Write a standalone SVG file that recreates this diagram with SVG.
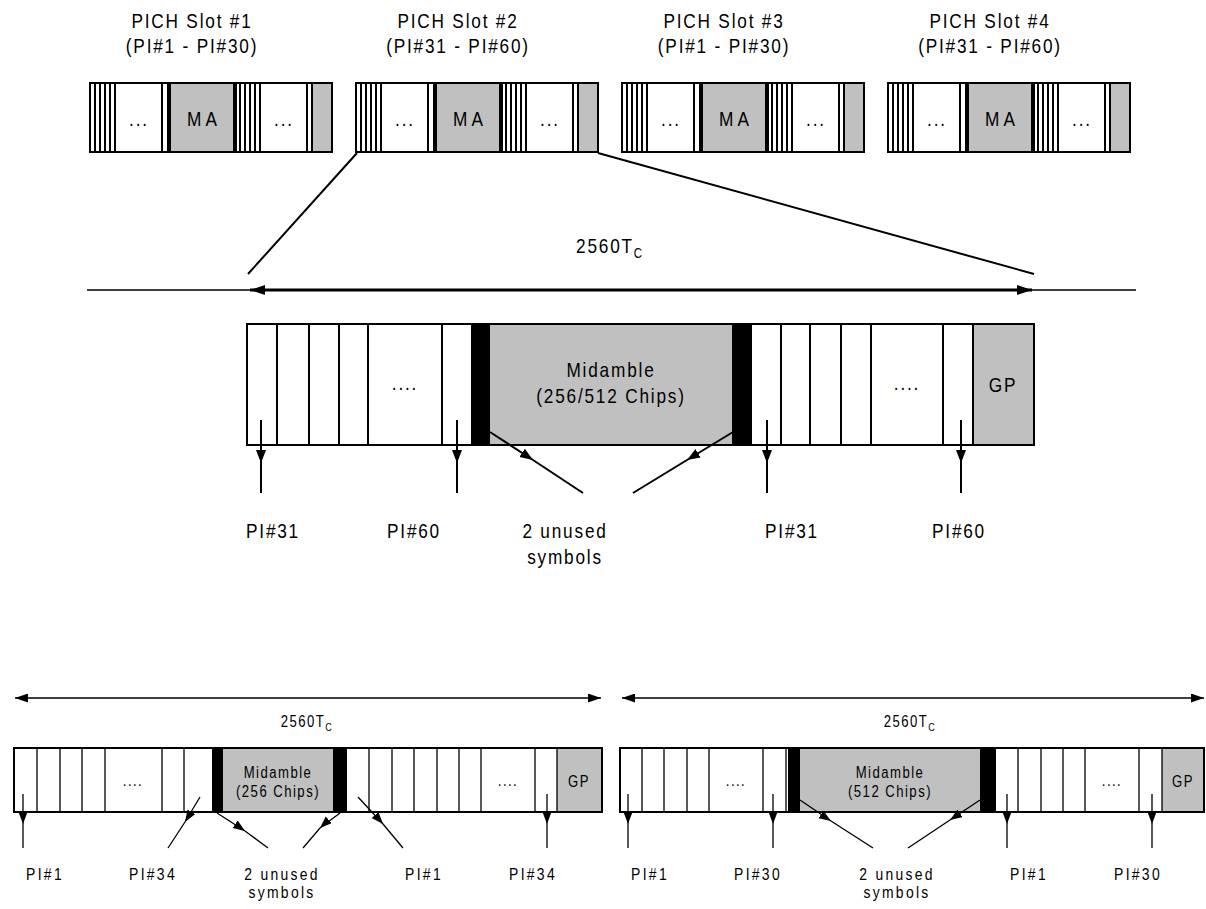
<svg xmlns="http://www.w3.org/2000/svg" xmlns:xlink="http://www.w3.org/1999/xlink" width="1206" height="909" viewBox="0 0 1206 909">
<style>
.t{font-family:"Liberation Sans",Arial,sans-serif;fill:#000;text-anchor:middle}
.h{font-size:21px;letter-spacing:2.2px}
.ma{letter-spacing:5px}
.s{font-size:17px;letter-spacing:2.8px}
.f{font-size:16px;letter-spacing:1.8px}
.box{fill:#fff;stroke:#000;stroke-width:2}
.blk{fill:#000}
.ln{stroke:#000;stroke-width:2;fill:none}
.lt{stroke:#000;stroke-width:1.3;fill:none}
.ar{stroke:#000;stroke-width:2;fill:none;marker-mid:url(#ah)}
.ars{stroke:#000;stroke-width:1.3;fill:none;marker-mid:url(#ahs)}
</style>
<defs>
<marker id="ah" markerUnits="userSpaceOnUse" markerWidth="14" markerHeight="12" refX="13" refY="5" orient="auto"><path d="M0,0 L13,5 L0,10 z" fill="#000"/></marker>
<marker id="ahs" markerUnits="userSpaceOnUse" markerWidth="14" markerHeight="12" refX="12" refY="4.5" orient="auto"><path d="M0,0 L12,4.5 L0,9 z" fill="#000"/></marker>
<marker id="de" markerUnits="userSpaceOnUse" markerWidth="16" markerHeight="12" refX="15" refY="5" orient="auto"><path d="M0,0 L15,5 L0,10 z" fill="#000"/></marker>
<marker id="ds" markerUnits="userSpaceOnUse" markerWidth="16" markerHeight="12" refX="0" refY="5" orient="auto"><path d="M15,0 L0,5 L15,10 z" fill="#000"/></marker>
<marker id="des" markerUnits="userSpaceOnUse" markerWidth="16" markerHeight="12" refX="13" refY="4.5" orient="auto"><path d="M0,0 L13,4.5 L0,9 z" fill="#000"/></marker>
<marker id="dss" markerUnits="userSpaceOnUse" markerWidth="16" markerHeight="12" refX="0" refY="4.5" orient="auto"><path d="M13,0 L0,4.5 L13,9 z" fill="#000"/></marker>
<g id="slot">
<rect class="box" x="0" y="0" width="242" height="69"/>
<rect fill="#c0c0c0" x="81" y="1" width="62" height="67"/>
<rect fill="#c0c0c0" x="223" y="1" width="18" height="67"/>
<rect class="blk" x="77" y="0" width="4" height="69"/>
<rect class="blk" x="143" y="0" width="4" height="69"/>
<path class="ln" d="M5,0V69M10,0V69M15,0V69M20,0V69M25,0V69M72,0V69M150,0V69M155,0V69M160,0V69M165,0V69M170,0V69M217,0V69M222,0V69"/>
<rect x="0" y="0" width="242" height="69" fill="none" stroke="#000" stroke-width="2"/>
</g>
</defs>

<g id="slot1">
<text class="t h" transform="translate(192,28) scale(.82,1)">PICH Slot #1</text>
<text class="t h" transform="translate(192,53) scale(.82,1)">(PI#1 - PI#30)</text>
<use xlink:href="#slot" x="90" y="83"/>
<text class="t h" transform="translate(139,126) scale(.82,1)">...</text>
<text class="t h ma" transform="translate(204,126) scale(.82,1)">MA</text>
<text class="t h" transform="translate(284,126) scale(.82,1)">...</text>
</g>
<g id="slot2">
<text class="t h" transform="translate(458,28) scale(.82,1)">PICH Slot #2</text>
<text class="t h" transform="translate(458,53) scale(.82,1)">(PI#31 - PI#60)</text>
<use xlink:href="#slot" x="356" y="83"/>
<text class="t h" transform="translate(405,126) scale(.82,1)">...</text>
<text class="t h ma" transform="translate(470,126) scale(.82,1)">MA</text>
<text class="t h" transform="translate(550,126) scale(.82,1)">...</text>
</g>
<g id="slot3">
<text class="t h" transform="translate(724,28) scale(.82,1)">PICH Slot #3</text>
<text class="t h" transform="translate(724,53) scale(.82,1)">(PI#1 - PI#30)</text>
<use xlink:href="#slot" x="622" y="83"/>
<text class="t h" transform="translate(671,126) scale(.82,1)">...</text>
<text class="t h ma" transform="translate(736,126) scale(.82,1)">MA</text>
<text class="t h" transform="translate(816,126) scale(.82,1)">...</text>
</g>
<g id="slot4">
<text class="t h" transform="translate(990,28) scale(.82,1)">PICH Slot #4</text>
<text class="t h" transform="translate(990,53) scale(.82,1)">(PI#31 - PI#60)</text>
<use xlink:href="#slot" x="888" y="83"/>
<text class="t h" transform="translate(937,126) scale(.82,1)">...</text>
<text class="t h ma" transform="translate(1002,126) scale(.82,1)">MA</text>
<text class="t h" transform="translate(1082,126) scale(.82,1)">...</text>
</g>

<g id="dim-main">
<text class="t h" transform="translate(610,253) scale(.82,1)">2560T<tspan font-size="14" dy="5">C</tspan></text>
</g>

<g id="frame-main">
<rect class="box" x="247" y="324" width="787" height="121"/>
<rect fill="#c0c0c0" x="490" y="325" width="242" height="119"/>
<rect fill="#c0c0c0" x="973" y="325" width="60" height="119"/>
<rect class="blk" x="472" y="324" width="18" height="121"/>
<rect class="blk" x="732" y="324" width="20" height="121"/>
<path class="ln" d="M277,324V445M309,324V445M339,324V445M368,324V445M442,324V445M472,324V445M781,324V445M810,324V445M841,324V445M871,324V445M943,324V445M973,324V445"/>
<rect x="247" y="324" width="787" height="121" fill="none" stroke="#000" stroke-width="2"/>
<text class="t h" transform="translate(405,390) scale(.82,1)">....</text>
<text class="t h" transform="translate(611,377) scale(.82,1)">Midamble</text>
<text class="t h" transform="translate(611,403) scale(.82,1)">(256/512 Chips)</text>
<text class="t h" transform="translate(907,390) scale(.82,1)">....</text>
<text class="t h" transform="translate(1003,392) scale(.82,1)">GP</text>
</g>

<g id="labels-main">
<text class="t h" transform="translate(273,538) scale(.82,1)">PI#31</text>
<text class="t h" transform="translate(414,538) scale(.82,1)">PI#60</text>
<text class="t h" transform="translate(565,538) scale(.82,1)">2 unused</text>
<text class="t h" transform="translate(565,564) scale(.82,1)">symbols</text>
<text class="t h" transform="translate(792,538) scale(.82,1)">PI#31</text>
<text class="t h" transform="translate(959,538) scale(.82,1)">PI#60</text>
</g>

<g id="frame-bl">
<rect class="box" x="14" y="748" width="588" height="64"/>
<rect fill="#c0c0c0" x="223" y="749" width="110" height="62"/>
<rect fill="#c0c0c0" x="557" y="749" width="44" height="62"/>
<rect class="blk" x="212" y="748" width="11" height="64"/>
<rect class="blk" x="333" y="748" width="14" height="64"/>
<path class="lt" d="M37,748V812M60,748V812M82,748V812M105,748V812M162,748V812M184,748V812M369,748V812M392,748V812M414,748V812M437,748V812M459,748V812M481,748V812M535,748V812M557,748V812"/>
<rect x="14" y="748" width="588" height="64" fill="none" stroke="#000" stroke-width="1.5"/>
<text class="t f" transform="translate(133,786) scale(.82,1)">....</text>
<text class="t f" transform="translate(278,778) scale(.82,1)">Midamble</text>
<text class="t f" transform="translate(278,797) scale(.82,1)">(256 Chips)</text>
<text class="t f" transform="translate(508,786) scale(.82,1)">....</text>
<text class="t f" transform="translate(579,787) scale(.82,1)">GP</text>
<text class="t f" transform="translate(307,727) scale(.82,1)">2560T<tspan font-size="11" dy="4">C</tspan></text>
<text class="t s" transform="translate(45,880) scale(.82,1)">PI#1</text>
<text class="t s" transform="translate(153,880) scale(.82,1)">PI#34</text>
<text class="t s" transform="translate(282,880) scale(.82,1)">2 unused</text>
<text class="t s" transform="translate(282,898) scale(.82,1)">symbols</text>
<text class="t s" transform="translate(424,880) scale(.82,1)">PI#1</text>
<text class="t s" transform="translate(533,880) scale(.82,1)">PI#34</text>
</g>

<g id="frame-br">
<rect class="box" x="620" y="748" width="584" height="64"/>
<rect fill="#c0c0c0" x="800" y="749" width="180" height="62"/>
<rect fill="#c0c0c0" x="1162" y="749" width="41" height="62"/>
<rect class="blk" x="788" y="748" width="12" height="64"/>
<rect class="blk" x="980" y="748" width="16" height="64"/>
<path class="lt" d="M642,748V812M664,748V812M687,748V812M709,748V812M763,748V812M786,748V812M1018,748V812M1041,748V812M1063,748V812M1085,748V812M1139,748V812M1162,748V812"/>
<rect x="620" y="748" width="584" height="64" fill="none" stroke="#000" stroke-width="1.5"/>
<text class="t f" transform="translate(736,786) scale(.82,1)">....</text>
<text class="t f" transform="translate(890,778) scale(.82,1)">Midamble</text>
<text class="t f" transform="translate(890,797) scale(.82,1)">(512 Chips)</text>
<text class="t f" transform="translate(1112,786) scale(.82,1)">....</text>
<text class="t f" transform="translate(1183,787) scale(.82,1)">GP</text>
<text class="t f" transform="translate(910,727) scale(.82,1)">2560T<tspan font-size="11" dy="4">C</tspan></text>
<text class="t s" transform="translate(650,880) scale(.82,1)">PI#1</text>
<text class="t s" transform="translate(758,880) scale(.82,1)">PI#30</text>
<text class="t s" transform="translate(897,880) scale(.82,1)">2 unused</text>
<text class="t s" transform="translate(897,898) scale(.82,1)">symbols</text>
<text class="t s" transform="translate(1029,880) scale(.82,1)">PI#1</text>
<text class="t s" transform="translate(1138,880) scale(.82,1)">PI#30</text>
</g>

<g id="connectors">
<path class="ln" d="M357,153L248,274M598,153L1034,274"/>
<line x1="87" y1="290" x2="1136" y2="290" stroke="#000" stroke-width="1.5"/>
<line x1="250" y1="290" x2="1032" y2="290" stroke="#000" stroke-width="3" marker-start="url(#ds)" marker-end="url(#de)"/>
<polyline class="ar" points="261,420 261,463 261,493"/>
<polyline class="ar" points="457,420 457,463 457,493"/>
<polyline class="ar" points="490,432 533,460 583,493"/>
<polyline class="ar" points="733,432 687,460 633,493"/>
<polyline class="ar" points="767,420 767,463 767,493"/>
<polyline class="ar" points="961,420 961,463 961,493"/>
<line x1="15" y1="698" x2="601" y2="698" stroke="#000" stroke-width="1.3" marker-start="url(#dss)" marker-end="url(#des)"/>
<line x1="622" y1="698" x2="1204" y2="698" stroke="#000" stroke-width="1.3" marker-start="url(#dss)" marker-end="url(#des)"/>
<polyline class="ars" points="23,794 23,824 23,848"/>
<polyline class="ars" points="200,797 185,822 168,848"/>
<polyline class="ars" points="217,813 245,831 268,848"/>
<polyline class="ars" points="340,813 320,828 303,848"/>
<polyline class="ars" points="358,797 383,824 403,848"/>
<polyline class="ars" points="547,794 547,824 547,848"/>
<polyline class="ars" points="628,794 628,824 628,848"/>
<polyline class="ars" points="773,794 773,824 773,848"/>
<polyline class="ars" points="800,800 831,821 873,848"/>
<polyline class="ars" points="980,800 950,820 908,848"/>
<polyline class="ars" points="1007,794 1007,824 1007,848"/>
<polyline class="ars" points="1152,794 1152,824 1152,848"/>
</g>
</svg>
